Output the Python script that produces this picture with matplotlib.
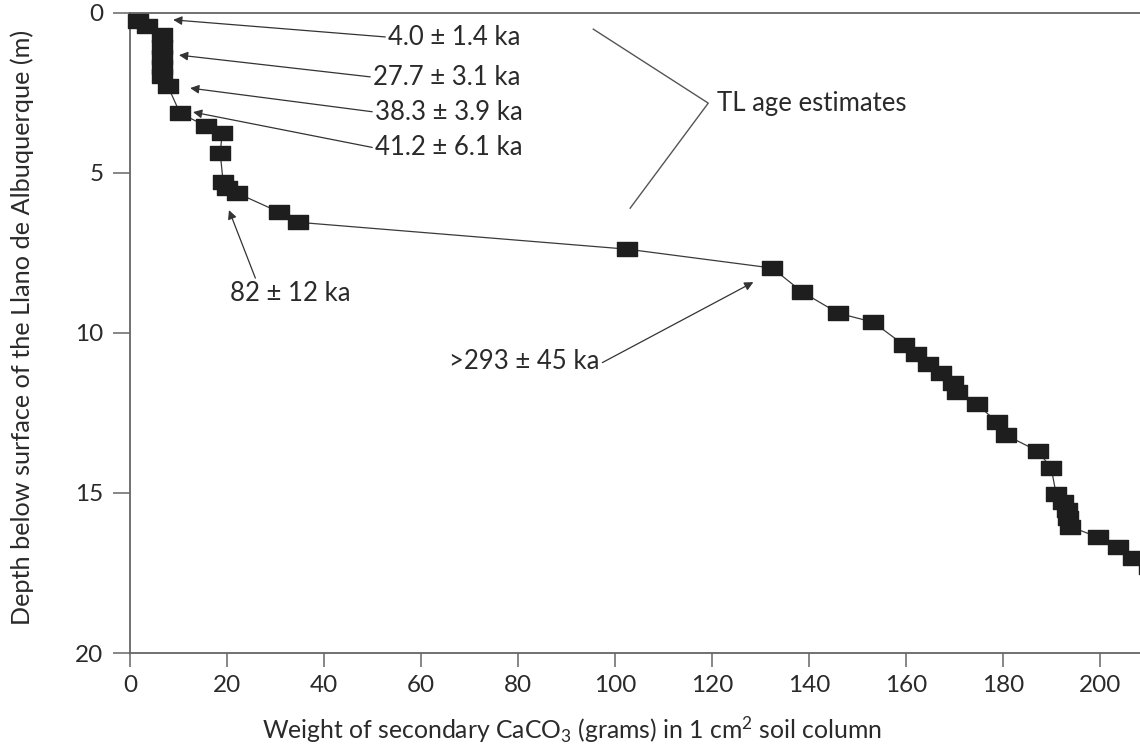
import matplotlib
matplotlib.use('Agg')
import matplotlib.pyplot as plt
from matplotlib.path import Path

plt.rcParams['font.family'] = ['Lato', 'DejaVu Sans']
plt.rcParams['mathtext.fontset'] = 'custom'
plt.rcParams['mathtext.rm'] = 'Lato'
plt.rcParams['mathtext.it'] = 'Lato:italic'

# CaCO3 weight (g) vs depth (m)
caco3 = [1.6, 3.5, 6.6, 6.6, 6.6, 6.6, 6.6, 7.8, 10.3, 15.7, 19.0, 18.6,
         19.2, 20.0, 22.1, 30.7, 34.6, 102.5, 132.4, 138.6, 146.0, 153.2,
         159.6, 162.1, 164.5, 167.2, 169.7, 170.5, 174.6, 178.8, 180.6,
         187.2, 189.9, 190.9, 192.4, 193.2, 193.4, 193.8, 199.6, 203.7,
         206.8, 210.0]
depth = [0.27, 0.42, 0.70, 1.08, 1.39, 1.70, 1.98, 2.30, 3.14, 3.55, 3.77,
         4.39, 5.30, 5.48, 5.64, 6.23, 6.55, 7.39, 7.98, 8.73, 9.39, 9.67,
         10.39, 10.67, 10.98, 11.27, 11.58, 11.86, 12.23, 12.80, 13.20,
         13.70, 14.23, 15.02, 15.30, 15.55, 15.80, 16.05, 16.39, 16.70,
         17.02, 17.30]

x_ticks = [0, 20, 40, 60, 80, 100, 120, 140, 160, 180, 200]
y_ticks = [0, 5, 10, 15, 20]

# TL age labels: (text, text pos, arrow tip)
ages = [
    ('4.0 \u00b1 1.4 ka', (53.2, 0.77), (8.9, 0.23)),
    ('27.7 \u00b1 3.1 ka', (50.1, 2.02), (10.1, 1.33)),
    ('38.3 \u00b1 3.9 ka', (50.5, 3.11), (12.4, 2.36)),
    ('41.2 \u00b1 6.1 ka', (50.5, 4.23), (13.0, 3.11)),
]

fs = 18.5
tc = '#2a2a2a'

fig = plt.figure(figsize=(11.4, 7.46), dpi=100)
ax = fig.add_axes([130 / 1140, 1 - 653 / 746, 1 - 130 / 1140, (653 - 12.5) / 746])

rect = Path([(-1, -0.68), (1, -0.68), (1, 0.68), (-1, 0.68), (-1, -0.68)],
            [Path.MOVETO, Path.LINETO, Path.LINETO, Path.LINETO, Path.CLOSEPOLY])
ax.plot(caco3, depth, color='#3a3a3a', lw=0.9, marker=rect, markersize=15,
        markerfacecolor='#1e1e1e', markeredgecolor='#1e1e1e', clip_on=False, zorder=3)

ax.set_xlim(0, 208.2)
ax.set_ylim(20, 0)
ax.set_xticks(x_ticks)
ax.set_yticks(y_ticks)
ax.spines['right'].set_visible(False)
for s in ['left', 'bottom', 'top']:
    ax.spines[s].set_color('#666666')
    ax.spines[s].set_linewidth(1.3)
ax.tick_params(axis='both', direction='out', color='#666666', width=1.1,
               labelsize=17.5, labelcolor=tc)
ax.tick_params(axis='y', length=12, pad=7)
ax.tick_params(axis='x', length=10, pad=6)
ax.tick_params(top=False)

ax.set_xlabel('Weight of secondary CaCO$_3$ (grams) in 1 cm$^2$ soil column',
              fontsize=17.8, color=tc)
ax.xaxis.label.set_va('center')
ax.xaxis.set_label_coords(0.4377, -0.120)
ax.set_ylabel('Depth below surface of the Llano de Albuquerque (m)',
              fontsize=18.2, color=tc)
ax.yaxis.label.set_va('center')
ax.yaxis.set_label_coords(-0.107, 0.509)

aprops = dict(arrowstyle='-|>', lw=0.9, color='#333333', mutation_scale=13,
              shrinkA=0, shrinkB=0)
for txt, pos, tip in ages:
    ax.annotate(txt, xy=tip, xytext=pos, fontsize=fs, color=tc,
                ha='left', va='center', arrowprops=dict(aprops, relpos=(0, 0.5)))

ax.annotate('82 \u00b1 12 ka', xy=(20.4, 6.17), xytext=(20.6, 8.77), fontsize=fs,
            color=tc, ha='left', va='center',
            arrowprops=dict(aprops, relpos=(0.22, 1.0)))
ax.annotate('>293 \u00b1 45 ka', xy=(128.5, 8.42), xytext=(65.8, 10.9), fontsize=fs,
            color=tc, ha='left', va='center',
            arrowprops=dict(aprops, relpos=(1.0, 0.4)))

# TL bracket lines
ax.text(121.0, 2.83, 'TL age estimates', fontsize=fs, color=tc,
        ha='left', va='center')
ax.plot([95.5, 119.2, 103.1], [0.52, 2.83, 6.11], color='#555555', lw=1.0)

fig.savefig('out.png', dpi=100)
